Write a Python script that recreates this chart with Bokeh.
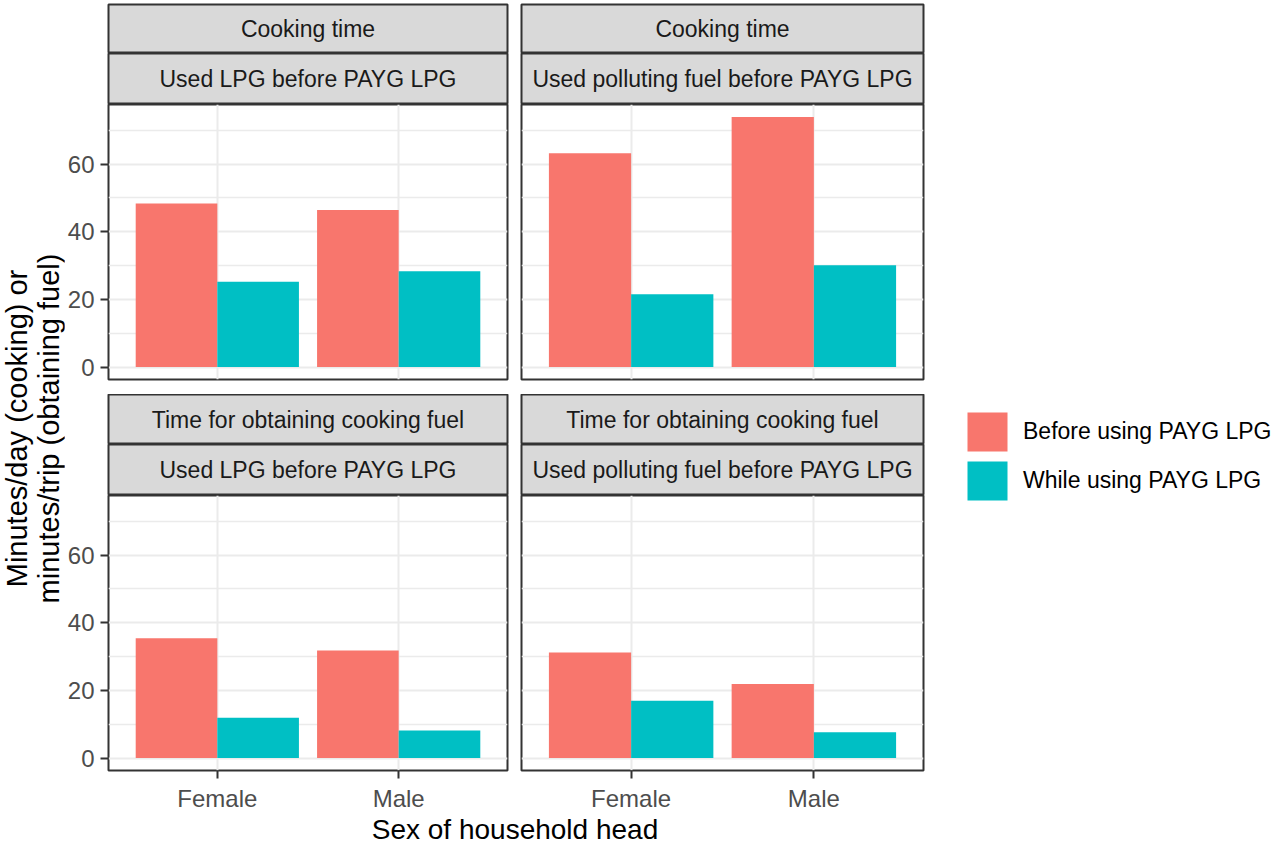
from bokeh.plotting import figure
from bokeh.models import (ColumnDataSource, Range1d, FactorRange, FixedTicker,
                          CategoricalTicker, Legend, LegendItem, Spacer)
from bokeh.layouts import row, column
from bokeh.transform import dodge
from bokeh.core.properties import value
from bokeh.embed import file_html
from bokeh.resources import INLINE

# ---------------- data ----------------
sexes = ["Female", "Male"]
series = ["Before using PAYG LPG", "While using PAYG LPG"]
colors = ["#F8766D", "#00BFC4"]
measures = ["Cooking time", "Time for obtaining cooking fuel"]
groups = ["Used LPG before PAYG LPG", "Used polluting fuel before PAYG LPG"]

cook_lpg_before = [48.3, 46.4]
cook_lpg_while = [25.2, 28.3]
cook_poll_before = [63.2, 73.9]
cook_poll_while = [21.5, 30.1]
fuel_lpg_before = [35.4, 31.8]
fuel_lpg_while = [11.9, 8.1]
fuel_poll_before = [31.2, 21.9]
fuel_poll_while = [16.9, 7.6]

y_ticks = [0, 20, 40, 60]
y_minor = [10, 30, 50, 70]
x_title = "Sex of household head"
y_title_lines = ["Minutes/day (cooking) or", "minutes/trip (obtaining fuel)"]

# ---------------- style ----------------
FONT = "Liberation Sans"
BORDER = "#333333"
STRIP_FILL = "#D9D9D9"
GRID = "#EBEBEB"

all_vals = (cook_lpg_before + cook_lpg_while + cook_poll_before + cook_poll_while +
            fuel_lpg_before + fuel_lpg_while + fuel_poll_before + fuel_poll_while)
ymax = max(all_vals)
y_lo, y_hi = -0.05 * ymax, ymax * 1.05

H_TOTAL = 844
W_YT = 64
W_L = 450
L_BORDER = 42
W_R = 416
W_LEG = 350
LEG_TOP = 407


def make_strip(label, width, left, right, height, top=0):
    s = figure(width=width, height=height, x_range=Range1d(0, 1), y_range=Range1d(0, 1),
               x_axis_location=None, y_axis_location=None, toolbar_location=None,
               output_backend="svg", min_border=0, min_border_left=left,
               min_border_right=right, min_border_top=top, min_border_bottom=0,
               background_fill_color=STRIP_FILL, border_fill_color="white",
               outline_line_color=BORDER, outline_line_width=2)
    s.grid.visible = False
    s.text(x=[0.5], y=[0.5], text=[label], text_align="center", text_baseline="middle",
           text_font=value(FONT), text_font_size="23px", text_color="#1A1A1A")
    return s


def make_panel(before, after, width, height, left, right, bottom, show_x, show_y):
    p = figure(width=width, height=height,
               x_range=FactorRange(factors=sexes, range_padding=0.1),
               y_range=Range1d(y_lo, y_hi),
               x_axis_location="below" if show_x else None,
               y_axis_location="left" if show_y else None,
               toolbar_location=None, output_backend="svg",
               min_border=0, min_border_left=left, min_border_right=right,
               min_border_top=0, min_border_bottom=bottom,
               outline_line_color=BORDER, outline_line_width=2,
               background_fill_color="white", border_fill_color="white")
    src = ColumnDataSource(dict(sex=sexes, before=before, after=after))
    p.vbar(x=dodge("sex", -0.225, range=p.x_range), top="before", width=0.45,
           source=src, fill_color=colors[0], line_color=None)
    p.vbar(x=dodge("sex", 0.225, range=p.x_range), top="after", width=0.45,
           source=src, fill_color=colors[1], line_color=None)

    yt = FixedTicker(ticks=y_ticks, minor_ticks=y_minor)
    p.ygrid.ticker = yt
    p.ygrid.grid_line_color = GRID
    p.ygrid.grid_line_width = 2
    p.ygrid.minor_grid_line_color = GRID
    p.ygrid.minor_grid_line_width = 1.5
    p.xgrid.ticker = CategoricalTicker()
    p.xgrid.grid_line_color = GRID
    p.xgrid.grid_line_width = 2

    if show_y:
        ax = p.yaxis[0]
        ax.ticker = yt
        ax.axis_line_color = None
        ax.major_tick_out = 8
        ax.major_tick_in = 0
        ax.minor_tick_out = 0
        ax.minor_tick_in = 0
        ax.major_tick_line_color = BORDER
        ax.major_tick_line_width = 2
        ax.major_label_standoff = 6
        ax.major_label_text_font = FONT
        ax.major_label_text_font_size = "24px"
        ax.major_label_text_color = "#4D4D4D"
    if show_x:
        ax = p.xaxis[0]
        ax.axis_line_color = None
        ax.major_tick_out = 8
        ax.major_tick_in = 0
        ax.major_tick_line_color = BORDER
        ax.major_tick_line_width = 2
        ax.major_label_standoff = 6
        ax.major_label_text_font = FONT
        ax.major_label_text_font_size = "24px"
        ax.major_label_text_color = "#4D4D4D"
    return p, src


# ---------------- panels ----------------
s_tl1 = make_strip(measures[0], W_L, L_BORDER, 7, 53, top=4)
s_tl2 = make_strip(groups[0], W_L, L_BORDER, 7, 51)
p_tl, src_tl = make_panel(cook_lpg_before, cook_lpg_while, W_L, 290, L_BORDER, 7, 15, False, True)

s_tr1 = make_strip(measures[0], W_R, 7, 7, 53, top=4)
s_tr2 = make_strip(groups[1], W_R, 7, 7, 51)
p_tr, _ = make_panel(cook_poll_before, cook_poll_while, W_R, 290, 7, 7, 15, False, False)

s_bl1 = make_strip(measures[1], W_L, L_BORDER, 7, 50)
s_bl2 = make_strip(groups[0], W_L, L_BORDER, 7, 51)
p_bl, _ = make_panel(fuel_lpg_before, fuel_lpg_while, W_L, 319, L_BORDER, 7, 44, True, True)

s_br1 = make_strip(measures[1], W_R, 7, 7, 50)
s_br2 = make_strip(groups[1], W_R, 7, 7, 51)
p_br, _ = make_panel(fuel_poll_before, fuel_poll_while, W_R, 319, 7, 7, 44, True, False)

# ---------------- x title ----------------
xt = figure(width=W_L + W_R, height=30, x_range=Range1d(0, 1), y_range=Range1d(0, 1),
            x_axis_location=None, y_axis_location=None, toolbar_location=None,
            output_backend="svg", min_border=0, min_border_left=L_BORDER, min_border_right=7,
            outline_line_color=None)
xt.grid.visible = False
xt.text(x=[0.5], y=[0.5], text=[x_title], text_align="center", text_baseline="middle",
        text_font=value(FONT), text_font_size="28px", text_color="#000000")

# ---------------- y title (axis label of a bare axis) ----------------
yfig = figure(width=W_YT, height=H_TOTAL, x_range=Range1d(0, 1), y_range=Range1d(0, 1),
              x_axis_location=None, y_axis_location="left", toolbar_location=None,
              output_backend="svg", min_border=0, min_border_left=61, min_border_top=12,
              outline_line_color=None)
yfig.grid.visible = False
yax = yfig.yaxis[0]
yax.ticker = FixedTicker(ticks=[])
yax.axis_label = "\n".join(y_title_lines)
yax.axis_label_standoff = 0
yax.axis_label_text_font = FONT
yax.axis_label_text_font_size = "29px"
yax.axis_label_text_font_style = "normal"
yax.axis_label_text_color = "#000000"
yax.axis_label_text_line_height = 1.0
yax.axis_line_color = None
yax.major_tick_out = 0
yax.major_tick_in = 0
yax.minor_tick_out = 0
yax.minor_tick_in = 0
yax.major_label_standoff = 0
yax.major_label_text_font_size = "0px"

# ---------------- legend ----------------
lg = figure(width=W_LEG, height=H_TOTAL - LEG_TOP, x_range=FactorRange(factors=sexes),
            y_range=Range1d(y_lo, y_hi),
            x_axis_location=None, y_axis_location=None, toolbar_location=None,
            output_backend="svg", min_border=0, min_border_left=32,
            outline_line_color=None)
lg.grid.visible = False
r_b = lg.vbar(x="sex", top="before", width=0.45, source=src_tl,
              fill_color=colors[0], line_color=None, visible=False)
r_w = lg.vbar(x="sex", top="after", width=0.45, source=src_tl,
              fill_color=colors[1], line_color=None, visible=False)
legend = Legend(items=[LegendItem(label=series[0], renderers=[r_b]),
                       LegendItem(label=series[1], renderers=[r_w])],
                location="top_left", margin=0, padding=0, spacing=0,
                glyph_width=50, glyph_height=49, label_standoff=11,
                label_text_font=FONT, label_text_font_size="23px",
                label_text_color="#000000", label_text_baseline="middle",
                border_line_color=None, background_fill_alpha=0)
lg.add_layout(legend)
legend_col = column(Spacer(width=W_LEG, height=LEG_TOP), lg)

main = column(row(column(s_tl1, s_tl2, p_tl), column(s_tr1, s_tr2, p_tr)),
              row(column(s_bl1, s_bl2, p_bl), column(s_br1, s_br2, p_br)),
              xt)
layout = row(yfig, main, legend_col)

open("out.html", "w").write(file_html(layout, INLINE))
